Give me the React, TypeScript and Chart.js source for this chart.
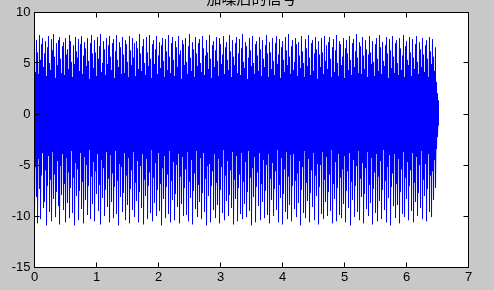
import { useEffect, useRef } from "react";
import { Chart, registerables } from "chart.js";

Chart.register(...registerables);

const titleText = "加噪后的信号";
const xTickValues = [0, 1, 2, 3, 4, 5, 6, 7];
const yTickValues = [-15, -10, -5, 0, 5, 10];
const samplePeriod = 1 / 62;

// per-column maxima of the noisy signal
const upperPeaks = [
  7.5, 4.1, 7.2, 6.0, 3.9, 7.7, 5.3, 6.8, 7.4, 4.6, 5.9, 7.1, 3.7, 6.5, 7.6,
  5.0, 4.3, 7.3, 6.2, 7.8, 5.6, 3.5, 6.9, 4.8, 7.2, 7.5, 5.4, 4.0, 6.6, 7.0,
  3.8, 7.4, 5.8, 6.3, 4.4, 7.7, 7.1, 5.1, 3.6, 6.7, 4.9, 7.5, 6.1, 5.5, 7.3,
  4.2, 6.8, 7.6, 3.9, 5.7, 7.0, 6.4, 4.7, 7.4, 5.2, 3.4, 6.9, 7.7, 5.9, 4.5,
  7.2, 6.0, 3.7, 7.5, 5.4, 6.6, 7.8, 4.1, 5.0, 7.1, 6.3, 3.8, 7.4, 4.9, 6.7,
  7.6, 5.6, 4.3, 6.9, 7.3, 3.5, 6.1, 7.7, 5.3, 4.6, 7.0, 6.5, 3.9, 7.5, 5.8,
  4.0, 7.2, 6.8, 5.1, 3.6, 7.6, 6.2, 4.8, 7.4, 5.5, 6.9, 3.7, 7.1, 6.4, 4.4,
  7.8, 5.9, 4.2, 6.6, 7.3, 5.0, 3.8, 7.5, 6.0, 4.7, 7.7, 5.4, 3.5, 6.8, 7.2,
  4.9, 6.3, 7.6, 3.9, 5.7, 7.0, 4.5, 6.7, 7.4, 5.2, 3.6, 7.3, 6.1, 4.3, 7.7,
  5.6, 4.0, 6.9, 7.5, 5.3, 3.7, 7.1, 6.5, 4.6, 7.6, 5.8, 6.2, 3.4, 7.2, 6.8,
  4.8, 7.4, 5.1, 3.9, 6.6, 7.8, 5.5, 4.2, 7.0, 6.3, 3.6, 7.5, 5.9, 4.7, 6.9,
  7.3, 5.0, 4.1, 7.6, 6.4, 3.8, 5.7, 7.2, 6.0, 4.4, 7.7, 5.4, 3.5, 6.7, 7.1,
  4.6, 6.2, 7.5, 5.2, 3.7, 7.4, 6.8, 4.9, 5.8, 7.6, 3.9, 6.5, 7.0, 5.3, 4.3,
  7.7, 6.1, 3.6, 7.2, 5.6, 4.8, 6.9, 7.5, 4.0, 5.9, 7.3, 3.8, 6.4, 7.8, 5.1,
  4.5, 7.0, 6.6, 3.4, 5.5, 7.4, 6.2, 4.7, 7.6, 5.0, 3.9, 6.8, 7.1, 5.7, 4.2,
  7.5, 6.3, 3.7, 7.2, 5.4, 4.6, 6.7, 7.7, 5.9, 3.6, 7.0, 6.0, 4.4, 7.4, 5.2,
  3.8, 6.9, 7.6, 4.9, 5.8, 7.3, 3.5, 6.5, 7.1, 5.3, 4.1, 7.5, 6.2, 4.8, 7.8,
  5.6, 3.9, 6.6, 7.2, 4.3, 5.1, 7.4, 6.8, 3.7, 7.0, 5.7, 4.5, 7.6, 6.1, 5.0,
  3.6, 7.3, 6.4, 4.7, 7.7, 5.5, 3.8, 6.9, 7.2, 4.2, 5.9, 7.5, 6.3, 3.4, 7.1,
  5.8, 4.6, 7.4, 6.0, 3.9, 7.6, 5.2, 6.7, 4.4, 7.0, 7.5, 5.4, 3.6, 6.5, 7.3,
  4.1, 6.2, 7.7, 5.0, 3.7, 7.1, 6.8, 4.8, 5.6, 7.4, 3.5, 6.4, 7.2, 5.9, 4.3,
  7.6, 5.3, 3.8, 6.9, 7.3, 4.6, 6.1, 7.8, 5.5, 4.0, 7.0, 6.6, 3.9, 7.5, 5.7,
  4.4, 7.2, 6.3, 3.6, 5.8, 7.6, 6.0, 4.9, 7.1, 5.1, 3.7, 6.8, 7.4, 5.4, 4.2,
  7.7, 6.5, 3.9, 7.0, 5.2, 4.7, 6.7, 7.5, 5.9, 3.5, 7.3, 6.2, 4.5, 7.6, 5.6,
  4.0, 6.9, 7.2, 5.0, 3.8, 7.4, 6.4, 4.3, 5.7, 7.7, 3.6, 6.6, 7.1, 5.3, 4.8,
  7.5, 6.0, 3.7, 7.3, 5.5, 4.4, 6.8, 7.6, 5.1, 3.9, 7.0, 6.3, 4.6, 7.4, 5.8,
  4.1, 6.7, 7.2, 5.4, 3.6, 7.5, 6.1, 4.9, 7.3, 5.6, 4.2, 6.5, 3.1, 2.0, 1.3,
];

// per-column minima of the noisy signal
const lowerPeaks = [
  -9.9, -5.2, -8.1, -10.7, -4.4, -7.3, -10.3, -6.0, -3.8, -9.2, -8.6, -5.5, -10.9, -7.0, -4.1,
  -9.6, -6.4, -10.5, -3.7, -8.3, -5.9, -10.1, -7.6, -4.6, -9.0, -10.8, -5.1, -7.9, -3.9, -9.4,
  -6.8, -10.6, -4.3, -8.7, -5.7, -10.2, -7.2, -3.6, -9.7, -6.2, -10.9, -4.8, -8.0, -5.4, -10.4,
  -7.5, -3.8, -9.3, -6.6, -10.7, -4.2, -8.4, -5.0, -9.9, -7.0, -3.5, -10.3, -6.1, -8.8, -4.7,
  -10.5, -5.6, -7.8, -3.9, -9.5, -6.9, -10.8, -4.5, -8.2, -5.3, -10.0, -7.4, -3.7, -9.1, -6.3,
  -10.6, -4.0, -8.6, -5.8, -10.2, -7.1, -3.6, -9.8, -6.5, -10.9, -4.9, -8.1, -5.2, -9.6, -7.7,
  -3.8, -10.4, -6.0, -8.9, -4.3, -10.7, -7.3, -5.5, -9.4, -3.7, -10.1, -6.7, -8.5, -4.6, -10.6,
  -7.6, -5.1, -9.2, -3.9, -10.8, -6.4, -8.0, -4.4, -10.3, -7.0, -5.7, -9.7, -3.5, -10.5, -6.2,
  -8.7, -4.8, -10.0, -7.4, -3.8, -9.5, -6.8, -10.9, -5.3, -8.3, -4.1, -10.2, -7.1, -5.9, -9.8,
  -3.6, -10.6, -6.5, -8.4, -4.7, -10.4, -7.8, -5.0, -9.1, -3.9, -10.7, -6.1, -8.8, -4.2, -10.0,
  -7.2, -5.4, -9.9, -3.7, -10.5, -6.6, -8.2, -4.5, -10.8, -7.5, -5.8, -9.3, -3.6, -10.1, -6.9,
  -8.6, -4.3, -10.3, -7.7, -3.8, -9.6, -6.3, -10.9, -5.1, -8.0, -4.9, -10.6, -7.0, -5.6, -9.4,
  -3.9, -10.2, -6.7, -8.9, -4.4, -10.7, -7.4, -5.2, -9.7, -3.5, -10.4, -6.0, -8.5, -4.6, -10.0,
  -7.9, -5.5, -9.2, -3.7, -10.8, -6.4, -8.3, -4.1, -10.5, -7.2, -5.9, -9.8, -3.8, -10.3, -6.6,
  -8.8, -4.7, -10.1, -7.6, -3.6, -9.5, -6.2, -10.9, -5.3, -8.1, -4.2, -10.6, -7.1, -5.7, -9.0,
  -3.8, -10.4, -6.8, -8.6, -4.5, -10.2, -7.5, -5.0, -9.9, -3.9, -10.7, -6.3, -8.4, -4.8, -10.0,
  -7.3, -5.6, -9.4, -3.5, -10.6, -6.9, -8.2, -4.3, -10.8, -7.8, -5.4, -9.6, -3.7, -10.3, -6.1,
  -8.9, -4.0, -10.5, -7.0, -3.9, -9.3, -6.5, -10.1, -5.8, -8.7, -4.6, -10.9, -7.4, -5.2, -9.7,
  -3.6, -10.2, -6.7, -8.5, -4.4, -10.6, -7.7, -5.5, -9.1, -3.8, -10.4, -6.0, -8.0, -4.9, -10.8,
  -7.1, -5.0, -9.8, -3.7, -10.3, -6.4, -8.6, -4.2, -10.0, -7.6, -5.9, -9.5, -3.5, -10.7, -6.8,
  -8.3, -4.7, -10.5, -7.2, -3.9, -9.9, -6.2, -10.2, -5.4, -8.8, -4.1, -10.6, -7.5, -5.6, -9.2,
  -3.8, -10.9, -6.6, -8.4, -4.5, -10.1, -7.0, -5.1, -9.6, -3.6, -10.4, -6.3, -8.1, -4.8, -10.7,
  -7.8, -5.3, -9.3, -3.7, -10.0, -6.9, -8.7, -4.3, -10.8, -7.3, -5.7, -9.7, -3.9, -10.5, -6.1,
  -8.5, -4.6, -10.3, -7.4, -3.5, -9.4, -6.5, -10.6, -5.2, -8.2, -4.0, -10.9, -7.1, -5.8, -9.0,
  -3.9, -10.2, -6.8, -8.9, -4.4, -10.7, -7.6, -5.4, -9.8, -3.7, -10.1, -6.2, -8.3, -4.7, -10.4,
  -7.0, -5.5, -9.5, -3.8, -10.6, -6.7, -8.6, -4.2, -10.0, -7.7, -5.0, -9.2, -3.6, -10.3, -6.4,
  -8.0, -4.9, -10.5, -7.3, -3.9, -9.6, -6.0, -10.1, -5.6, -8.4, -4.5, -7.2, -3.4, -2.2, -1.1,
];

const matlabAxes = {
  id: "matlabAxes",
  beforeDraw(chart: any) {
    const { ctx, chartArea: a } = chart;
    ctx.save();
    ctx.fillStyle = "#c8c8c8";
    ctx.fillRect(0, 0, chart.width, chart.height);
    ctx.fillStyle = "#ffffff";
    ctx.fillRect(a.left, a.top, a.right - a.left, a.bottom - a.top);
    ctx.restore();
  },
  afterDraw(chart: any) {
    const { ctx, chartArea: a, scales } = chart;
    ctx.save();
    ctx.strokeStyle = "#000000";
    ctx.lineWidth = 1;
    const L = Math.floor(a.left) + 0.5;
    const T = Math.floor(a.top) + 0.5;
    const R = Math.floor(a.right) + 0.5;
    const B = Math.floor(a.bottom) + 0.5;
    ctx.strokeRect(L, T, R - L, B - T);
    const len = 5;
    ctx.beginPath();
    xTickValues.forEach((v) => {
      const px = Math.floor(scales.x.getPixelForValue(v)) + 0.5;
      ctx.moveTo(px, B);
      ctx.lineTo(px, B - len);
      ctx.moveTo(px, T);
      ctx.lineTo(px, T + len);
    });
    yTickValues.forEach((v) => {
      const py = Math.floor(scales.y.getPixelForValue(v)) + 0.5;
      ctx.moveTo(L, py);
      ctx.lineTo(L + len, py);
      ctx.moveTo(R, py);
      ctx.lineTo(R - len, py);
    });
    ctx.stroke();
    ctx.fillStyle = "#000000";
    ctx.font = "15px 'Noto Sans CJK SC', sans-serif";
    ctx.textAlign = "center";
    ctx.textBaseline = "bottom";
    ctx.fillText(titleText, (a.left + a.right) / 2, 6);
    ctx.restore();
  },
};

export default function App() {
  const canvasRef = useRef<HTMLCanvasElement | null>(null);

  useEffect(() => {
    if (!canvasRef.current) return;
    const n = Math.min(upperPeaks.length, lowerPeaks.length);
    const points: { x: number; y: number }[] = [];
    for (let i = 0; i < n; i++) {
      const t = i * samplePeriod;
      points.push({ x: t, y: upperPeaks[i] });
      points.push({ x: t, y: lowerPeaks[i] });
    }
    const tickFont = { family: "'Liberation Sans', Arial, sans-serif", size: 13 };
    const chart = new Chart(canvasRef.current, {
      type: "line",
      data: {
        datasets: [
          {
            data: points,
            borderColor: "#0000ff",
            borderWidth: 1,
            borderJoinStyle: "bevel",
            pointRadius: 0,
            tension: 0,
            fill: false,
          },
        ],
      },
      options: {
        responsive: false,
        animation: false,
        events: [],
        layout: { padding: { top: 12, right: 25.5, left: 0, bottom: 0 } },
        plugins: { legend: { display: false }, tooltip: { enabled: false }, title: { display: false } },
        scales: {
          x: {
            type: "linear",
            min: 0,
            max: 7,
            afterFit: (s: any) => {
              s.height = 23;
            },
            afterBuildTicks: (s: any) => {
              s.ticks = xTickValues.map((v) => ({ value: v }));
            },
            grid: { display: false, drawTicks: false },
            border: { display: false },
            ticks: { color: "#000000", font: tickFont, padding: 3, maxRotation: 0 },
          },
          y: {
            type: "linear",
            min: -15,
            max: 10,
            afterFit: (s: any) => {
              s.width = 34.5;
            },
            afterBuildTicks: (s: any) => {
              s.ticks = yTickValues.map((v) => ({ value: v }));
            },
            grid: { display: false, drawTicks: false },
            border: { display: false },
            ticks: { color: "#000000", font: tickFont, padding: 4 },
          },
        },
      },
      plugins: [matlabAxes],
    } as any);
    return () => chart.destroy();
  }, []);

  return (
    <div style={{ position: "fixed", left: 0, top: 0, width: 494, height: 290 }}>
      <canvas ref={canvasRef} width={494} height={290} />
    </div>
  );
}
